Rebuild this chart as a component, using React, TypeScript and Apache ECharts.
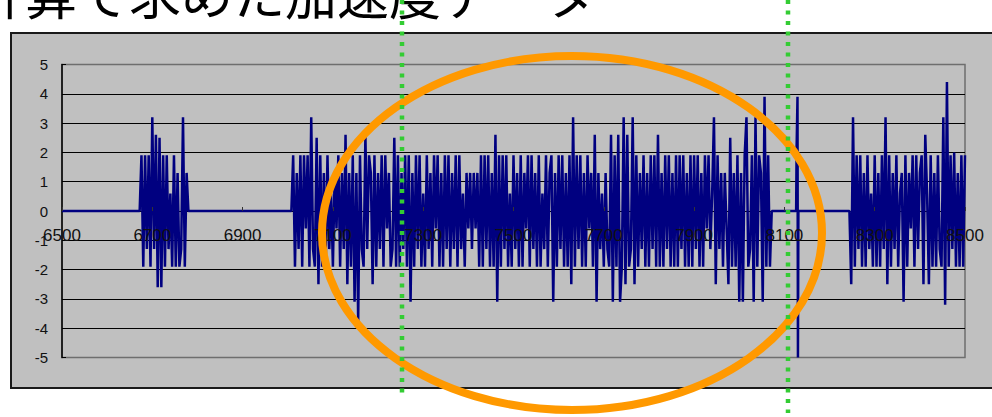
import React, { useEffect, useRef } from "react";
import * as echarts from "echarts";

// x range of the record
const xMin = 6500;
const xMax = 8500;
const xInterval = 200;
const yTicks = [-5, -4, -3, -2, -1, 0, 1, 2, 3, 4, 5];
const sampleStep = 4;

const titleText = "計算で求めた加速度データ";

// burst 1 (starts at 6672)
const burst1Start = 6672;
const burst1 = [
  0, 1.9, -1.9, 1.9, -1.3, 1.9, -1.9, 3.2, -1.3, 2.6, -2.6, 2.5, -2.6, 1.9,
  -1.9, 1.9, -1.3, 0.6, -1.9, 1.9, -1.9, 1.3, -1.9, -1.3, 3.2, -1.9, 1.3, 0,
];

// burst 2 (starts at 7008), split in segments
const burst2Start = 7008;
const burst2a = [
  0, 1.9, -1.9, 1.3, -1.3, 1.9, -1.9, 1.9, -0.6, 1.9, -1.9, 3.2, -1.3, -1.9,
  2.5, -2.5, 1.9, -1.9, 1.3, -1.9, 1.9, -1.3, 0.6, -1.9, 1.3, -0.6, 1.9, -1.9,
  1.3, -1.3, 2.6, -2.5, 1.3, -1.9, 1.9, -3.1, 1.3, -3.8, 1.9, -1.3, -1.9, 2.6,
  -1.3, 1.9, 1.3, -2.5, 1.9, -1.9, 1.3, -1.3,
];
const burst2b = [
  1.9, -1.9, 1.9, -0.6, 1.3, -1.9, -1.3, 2.5, -1.9, 1.9, -1.9, 1.3, -1.3, 1.9,
  -1.9, 1.9, -3.1, 1.3, -1.9, 1.9, -1.3, 1.9, -1.9, 0.6, -1.9, 1.9, -1.3, 1.3,
  -1.9, 1.9, -0.6, 1.9, -1.9, 1.3, -1.9, 1.9, -1.3, 1.9, -1.9, 1.3, -1.3, 1.9,
  -1.9, 1.9, -1.3, 0.6, -1.9, 1.3, -0.6, 1.3,
];
const burst2c = [
  -1.3, 1.3, -0.6, 1.3, -1.9, 1.9, -1.9, 1.9, -1.3, 1.9, -1.9, 1.3, -1.9, 2.6,
  -3.1, 1.9, -1.9, 1.9, -1.3, 1.9, -1.9, 0.6, -1.9, 1.9, -1.3, 1.3, -1.9, 1.9,
  -1.9, 1.3, -0.6, 1.9, -1.9, 1.9, -1.3, 1.3, -1.9, 1.9, -1.9, 0.6, -1.3, 1.9,
  -1.9, 1.3, 1.9, -3.1, 1.3, -1.9, 1.9, -1.3,
];
const burst2d = [
  1.9, -1.9, 1.3, -1.9, 1.9, -2.5, 3.2, -1.9, 1.9, -1.3, 1.9, -1.9, 1.3, -1.9,
  1.9, -0.6, 1.3, -1.9, 2.6, -3.1, 1.3, -1.3, 0.6, -1.9, 1.3, -1.3, -1.9, 2.6,
  -3.1, 1.9, -1.9, 2.6, -3.1, -1.9, 3.2, -2.5, 2.6, -1.9, -1.3, 3.2, -2.5, 1.9,
  -1.9, 1.3, -1.3, 1.9, -1.9, 1.3, -1.9, 1.9,
];
const burst2e = [
  -1.3, 1.9, -1.9, 2.6, -1.9, 1.3, -1.9, 1.9, -1.3, 1.9, -1.9, 1.3, -1.9, 1.9,
  -1.9, 1.9, -1.3, 1.9, -1.9, 1.3, -1.9, 1.9, -1.9, 1.9, -1.3, 1.9, -1.9, 1.3,
  -1.9, 1.9, -0.6, 1.9, -1.3, 0.6, 3.2, -2.5, 1.9, -1.3, 1.3, -1.9, 1.3, -0.6,
  -2.5, 2.5, -1.9, 1.3, -1.9, 1.9, -3.1, 1.3,
];
const burst2f = [
  -3.1, 1.9, 3.2, -1.9, -1.3, 1.9, -3.1, 3.2, -1.9, 1.9, 1.3, -3.1, 3.9, -1.9,
  1.9, -1.9, 0,
];

// isolated spike near 8130 and the quiet stretch after it
const spikeX = [8126, 8127, 8128, 8129, 8130, 8131, 8244];
const spikeY = [0, 2.1, 2.1, 3.9, -5, 0, 0];

// burst 3 (starts at 8248)
const burst3Start = 8248;
const burst3 = [
  -2.5, 3.2, -1.9, 1.9, -1.3, 1.9, -1.9, 1.3, -1.9, 1.9, -1.3, 0.6, -1.9, 1.9,
  -1.9, 1.3, -1.9, 1.9, -1.3, 3.2, -2.5, 1.9, -1.9, 1.3, -1.3, 1.9, -1.9, 0.6,
  1.3, -3.1, 1.9, -1.9, 1.3, -0.6, 1.9, -1.9, 1.9, -1.3, 1.3, 1.9, -2.5, 2.6,
  0.6, -2.5, 1.9, -1.9, 1.3, -1.9, 1.9, -1.3, -1.9, 3.2, -3.2, 4.4, -1.9, 1.9,
  -1.3, 2.0, -1.9, 1.3, -1.9, 1.9, -1.9, 1.9,
];

function buildData(): [number, number][] {
  const pts: [number, number][] = [[xMin, 0]];
  burst1.forEach((v, i) => pts.push([burst1Start + i * sampleStep, v]));
  const b2 = [...burst2a, ...burst2b, ...burst2c, ...burst2d, ...burst2e, ...burst2f];
  b2.forEach((v, i) => pts.push([burst2Start + i * sampleStep, v]));
  spikeX.forEach((x, i) => pts.push([x, spikeY[i]]));
  burst3.forEach((v, i) => pts.push([burst3Start + i * sampleStep, v]));
  return pts;
}

const GRID_TOP = 64.5;
const GRID_BOTTOM = 59.5;
const CHART_H = 417;

export default function App() {
  const ref = useRef<HTMLDivElement>(null);

  useEffect(() => {
    if (!ref.current) return;
    const chart = echarts.init(ref.current, undefined, { renderer: "svg" });
    const font = "'Liberation Sans', Arial, sans-serif";
    const plotH = CHART_H - GRID_TOP - GRID_BOTTOM;
    const zeroOffset = -(plotH * (0 - yTicks[0])) / (yTicks[yTicks.length - 1] - yTicks[0]);
    chart.setOption({
      animation: false,
      grid: {
        left: 62,
        right: 27,
        top: GRID_TOP,
        bottom: GRID_BOTTOM,
        show: true,
        backgroundColor: "#c0c0c0",
        borderColor: "#6e6e6e",
        borderWidth: 1.5,
      },
      xAxis: {
        type: "value",
        position: "bottom",
        offset: zeroOffset,
        z: 8,
        min: xMin,
        max: xMax,
        interval: xInterval,
        axisLine: { show: false, onZero: false },
        axisTick: { show: true, inside: true, length: 4, lineStyle: { color: "#333" } },
        axisLabel: {
          fontSize: 17,
          color: "#111",
          margin: 16,
          fontFamily: font,
          formatter: (v: number) => String(v),
        },
        splitLine: { show: false },
      },
      yAxis: {
        type: "value",
        min: yTicks[0],
        max: yTicks[yTicks.length - 1],
        interval: 1,
        axisLine: { show: true, onZero: false, lineStyle: { color: "#000", width: 1.5 } },
        axisTick: { show: true, inside: true, length: 4, lineStyle: { color: "#000" } },
        axisLabel: { fontSize: 15, color: "#111", margin: 14, fontFamily: font },
        splitLine: {
          show: true,
          showMinLine: false,
          showMaxLine: false,
          lineStyle: { color: "#000", width: 1 },
        },
      },
      series: [
        {
          type: "line",
          data: buildData(),
          symbol: "none",
          showSymbol: false,
          clip: true,
          z: 3,
          lineStyle: { color: "#000080", width: 2.5 },
        },
      ],
      graphic: [
        {
          type: "text",
          x: -27,
          y: -8,
          z: 50,
          style: {
            text: titleText,
            fontSize: 52,
            fontFamily: "'Noto Sans CJK JP', sans-serif",
            fill: "#000",
            verticalAlign: "middle",
            align: "left",
          },
        },
        {
          type: "ellipse",
          z: 100,
          shape: { cx: 572, cy: 233, rx: 250, ry: 177 },
          style: { fill: "none", stroke: "#FF9900", lineWidth: 8 },
        },
        {
          type: "line",
          z: 101,
          shape: { x1: 402, y1: 0, x2: 402, y2: 395 },
          style: { stroke: "#33CC33", lineWidth: 4.5, lineDash: [4, 6.5] },
        },
        {
          type: "line",
          z: 101,
          shape: { x1: 788, y1: 0, x2: 788, y2: 413 },
          style: { stroke: "#33CC33", lineWidth: 4.5, lineDash: [4, 6.5] },
        },
      ],
    });
    return () => chart.dispose();
  }, []);

  return (
    <div
      style={{
        position: "fixed",
        left: 0,
        top: 0,
        width: 992,
        height: 417,
        background: "#fff",
        overflow: "hidden",
      }}
    >
      <div
        style={{
          position: "absolute",
          left: 10,
          top: 32,
          width: 1000,
          height: 353,
          background: "#c0c0c0",
          border: "2px solid #1a1a1a",
        }}
      />
      <div
        ref={ref}
        style={{ position: "absolute", left: 0, top: 0, width: 992, height: 417 }}
      />
    </div>
  );
}
